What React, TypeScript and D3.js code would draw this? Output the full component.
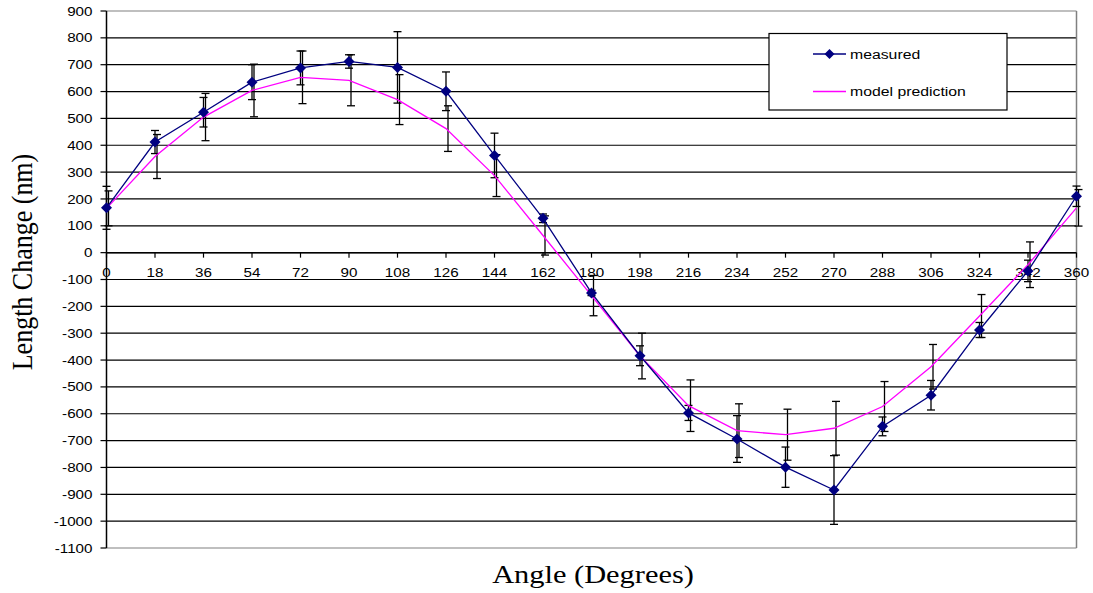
import React from "react";
import * as d3 from "d3";

const angles = [0, 18, 36, 54, 72, 90, 108, 126, 144, 162, 180, 198, 216, 234, 252, 270, 288, 306, 324, 342, 360];
const measured = [167, 412, 523, 635, 688, 712, 690, 601, 362, 128, -150, -384, -597, -694, -799, -884, -647, -531, -288, -68, 210];
const measuredErr = [80, 43, 55, 65, 63, 25, 133, 72, 83, 16, 10, 37, 28, 87, 75, 128, 35, 55, 28, 40, 38];
const model = [165, 358, 505, 604, 653, 642, 570, 462, 287, 64, -160, -385, -570, -663, -678, -654, -573, -425, -236, -45, 167];
const modelErr = [65, 82, 88, 98, 98, 95, 93, 85, 78, 73, 75, 85, 96, 100, 95, 100, 93, 83, 80, 85, 68];
const yTicks = d3.range(900, -1101, -100);
const xTicks = d3.range(0, 361, 18);
const seriesNames = ["measured", "model prediction"];

const W = 1093, H = 593;
const L = 106.5, R = 1076.5, T = 11, B = 548;
const SX = 1.17; // horizontal stretch of the reference text

export default function App() {
  const x = d3.scaleLinear().domain([0, 360]).range([L, R]);
  const y = d3.scaleLinear().domain([-1100, 900]).range([B, T]);
  const line = d3.line<number>().x((_, i) => x(angles[i])).y((d) => y(d));
  const sans = "'Liberation Sans', Arial, sans-serif";
  const serif = "'Liberation Serif', 'Times New Roman', serif";
  const diamond = (cx: number, cy: number, r: number) =>
    `M${cx},${cy - r}L${cx + r},${cy}L${cx},${cy + r}L${cx - r},${cy}Z`;
  const errBar = (cx: number, v: number, e: number, key: string) => (
    <g key={key} stroke="#000" strokeWidth={1.3}>
      <line x1={cx} x2={cx} y1={y(v + e)} y2={y(v - e)} />
      <line x1={cx - 4} x2={cx + 4} y1={y(v + e)} y2={y(v + e)} />
      <line x1={cx - 4} x2={cx + 4} y1={y(v - e)} y2={y(v - e)} />
    </g>
  );
  const label = (tx: number, ty: number, s: string | number, anchor: string, key: string, size = 13) => (
    <text key={key} transform={`translate(${tx},${ty}) scale(${SX},1)`} dy="0.35em" textAnchor={anchor} fontFamily={sans} fontSize={size} fill="#000">{s}</text>
  );
  return (
    <svg width={W} height={H} style={{ position: "absolute", left: 0, top: 0, background: "#fff" }}>
      <rect x={0} y={0} width={W} height={H} fill="#fff" />
      {/* gridlines */}
      {yTicks.map((t) => (
        <line key={"g" + t} x1={L} x2={R} y1={y(t)} y2={y(t)} stroke={t === 900 || t === -1100 ? "#808080" : "#000"} strokeWidth={1.2} />
      ))}
      <line x1={R} x2={R} y1={T} y2={B} stroke="#808080" strokeWidth={1.5} />
      {/* y axis */}
      <line x1={L} x2={L} y1={T} y2={B} stroke="#000" strokeWidth={1.5} />
      {yTicks.map((t) => (
        <g key={"yt" + t}>
          <line x1={L - 6} x2={L} y1={y(t)} y2={y(t)} stroke="#000" strokeWidth={1.2} />
          {label(92.5, y(t), t, "end", "yl" + t)}
        </g>
      ))}
      {/* x axis at 0 */}
      <line x1={L} x2={R} y1={y(0)} y2={y(0)} stroke="#000" strokeWidth={1.5} />
      {xTicks.map((t) => (
        <g key={"xt" + t}>
          <line x1={x(t)} x2={x(t)} y1={y(0)} y2={y(0) + 5} stroke="#000" strokeWidth={1.2} />
          {label(x(t), y(0) + 19.5, t, "middle", "xl" + t)}
        </g>
      ))}
      {/* error bars */}
      {angles.map((a, i) => errBar(x(a), measured[i], measuredErr[i], "em" + i))}
      {angles.map((a, i) => errBar(x(a) + 2, model[i], modelErr[i], "ep" + i))}
      {/* lines */}
      <path d={line(model) || ""} fill="none" stroke="#FF00FF" strokeWidth={1.3} />
      <path d={line(measured) || ""} fill="none" stroke="#000080" strokeWidth={1.3} />
      {measured.map((v, i) => (
        <path key={"m" + i} d={diamond(x(angles[i]), y(v), 5.5)} fill="#000080" />
      ))}
      {/* legend */}
      <rect x={769} y={33.5} width={238} height={76.5} fill="#fff" stroke="#000" strokeWidth={1.2} />
      <line x1={813} x2={846} y1={54} y2={54} stroke="#000080" strokeWidth={1.3} />
      <path d={diamond(829.5, 54, 5)} fill="#000080" />
      {label(850, 54, seriesNames[0], "start", "lg0", 13.5)}
      <line x1={813} x2={846} y1={91.5} y2={91.5} stroke="#FF00FF" strokeWidth={1.3} />
      {label(850, 91.5, seriesNames[1], "start", "lg1", 13.5)}
      {/* axis titles */}
      <text transform={`translate(32,262) scale(${SX},1) rotate(-90)`} textAnchor="middle" fontFamily={serif} fontSize={26} fill="#000">Length Change (nm)</text>
      <text transform={`translate(593,583) scale(${SX},1)`} textAnchor="middle" fontFamily={serif} fontSize={26} fill="#000">Angle (Degrees)</text>
    </svg>
  );
}
